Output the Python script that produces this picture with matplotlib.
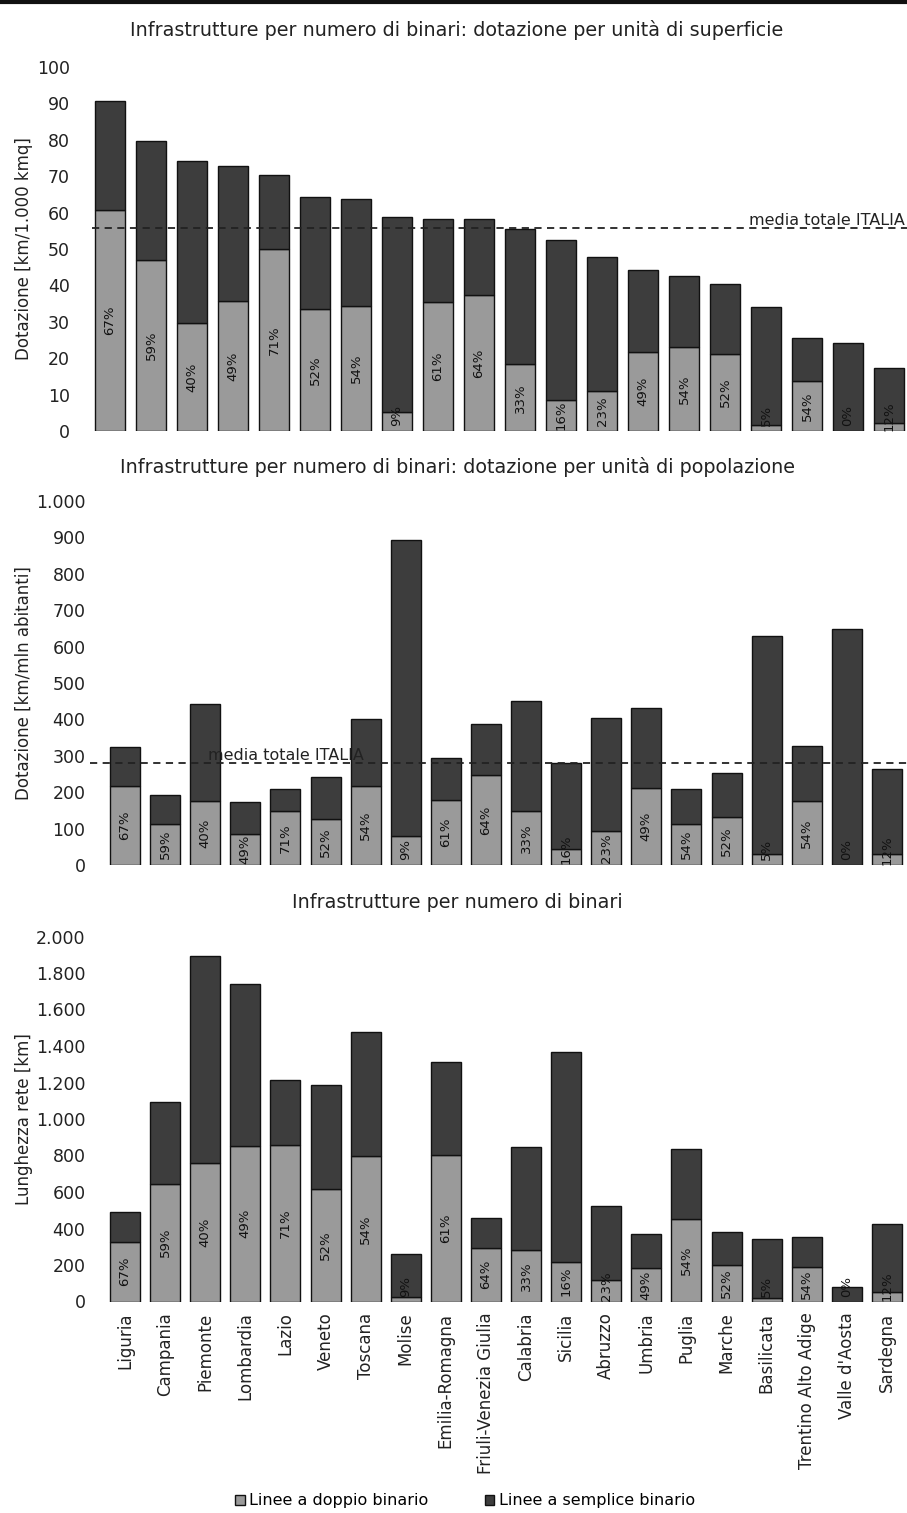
import numpy as np
import matplotlib
matplotlib.use("Agg")
import matplotlib.pyplot as plt
from matplotlib.patches import Patch
from matplotlib.ticker import FuncFormatter

regioni = ["Liguria", "Campania", "Piemonte", "Lombardia", "Lazio", "Veneto",
           "Toscana", "Molise", "Emilia-Romagna", "Friuli-Venezia Giulia",
           "Calabria", "Sicilia", "Abruzzo", "Umbria", "Puglia", "Marche",
           "Basilicata", "Trentino Alto Adige", "Valle d'Aosta", "Sardegna"]

# quota di linee a doppio binario [%]
quota_doppio = [67, 59, 40, 49, 71, 52, 54, 9, 61, 64,
                33, 16, 23, 49, 54, 52, 5, 54, 0, 12]

# km / 1.000 kmq
dot_superficie = [90.7, 79.7, 74.2, 72.7, 70.4, 64.2, 63.7, 58.9, 58.3, 58.3,
                  55.4, 52.5, 47.9, 44.1, 42.5, 40.5, 34.1, 25.6, 24.3, 17.2]
media_superficie = 55.7

# km / mln abitanti
dot_popolazione = [325, 191, 441, 172, 210, 243, 400, 893, 293, 386,
                   451, 279, 405, 432, 209, 254, 630, 327, 649, 263]
media_popolazione = 280

# km
lunghezza_rete = [490, 1093, 1894, 1739, 1211, 1184, 1476, 261, 1312, 460,
                  849, 1365, 521, 371, 835, 380, 342, 351, 79, 424]

C_DOPPIO = "#9a9a9a"
C_SEMPLICE = "#3d3d3d"

plt.rcParams["font.family"] = ["DejaVu Sans"]

W, H = 907, 1513
fig = plt.figure(figsize=(W / 100, H / 100), dpi=100)


def fx(px):
    return px / W


def fy(py):
    return 1 - py / H


def thousands(v, pos):
    return "{:,.0f}".format(v).replace(",", ".")


def pannello(rect, totali, ymax, step, titolo, ylabel, title_y, media=None,
             media_x0=None, media_txt_x=None, media_ha="center"):
    ax = fig.add_axes(rect)
    tot = np.array(totali, dtype=float)
    q = np.array(quota_doppio, dtype=float)
    doppio = tot * q / 100
    semplice = tot - doppio
    x = np.arange(len(tot))
    ax.bar(x, doppio, 0.75, color=C_DOPPIO, edgecolor="#111111", linewidth=1.0, zorder=2)
    ax.bar(x, semplice, 0.75, bottom=doppio, color=C_SEMPLICE,
           edgecolor="#111111", linewidth=1.0, zorder=2)
    for xi, d, qi in zip(x, doppio, quota_doppio):
        yy = max(d / 2, 0.042 * ymax)
        ax.text(xi, yy, "%d%%" % qi, rotation=90, ha="center", va="center",
                fontsize=9.5, color="#111111", zorder=4)
    ax.set_xlim(-0.5, 19.45)
    ax.set_ylim(0, ymax)
    ax.set_yticks(np.arange(0, ymax + step / 2, step))
    ax.yaxis.set_major_formatter(FuncFormatter(thousands))
    ax.tick_params(axis="y", length=0, pad=14, labelsize=12.5, colors="#222222")
    ax.tick_params(axis="x", length=0)
    ax.set_xticks([])
    for s in ax.spines.values():
        s.set_visible(False)
    if media is not None:
        ax.plot([media_x0, 19.6], [media, media], ls=(0, (4, 3)), color="#222222",
                lw=1.3, zorder=3, clip_on=False)
        ax.text(media_txt_x, media, "media totale ITALIA", ha=media_ha, va="bottom",
                fontsize=11.5, color="#222222", zorder=4)
    fig.text(fx(457), fy(title_y), titolo, ha="center", va="center",
             fontsize=13.8, color="#222222")
    fig.text(fx(24), rect[1] + rect[3] / 2, ylabel, rotation=90, ha="center",
             va="center", fontsize=12, color="#222222")
    return ax


# pannello 1: per unita' di superficie
pannello([fx(89.5), fy(431), fx(818), (431 - 67) / H], dot_superficie, 100, 10,
         "Infrastrutture per numero di binari: dotazione per unità di superficie",
         "Dotazione [km/1.000 kmq]", 30,
         media=media_superficie, media_x0=-0.45, media_txt_x=19.38, media_ha="right")

# pannello 2: per unita' di popolazione
pannello([fx(105), fy(865), fx(800), (865 - 501) / H], dot_popolazione, 1000, 100,
         "Infrastrutture per numero di binari: dotazione per unità di popolazione",
         "Dotazione [km/mln abitanti]", 467,
         media=media_popolazione, media_x0=-0.87, media_txt_x=4.0)

# pannello 3: lunghezza rete
ax3 = pannello([fx(105), fy(1301.5), fx(800), (1301.5 - 936.5) / H], lunghezza_rete,
               2000, 200, "Infrastrutture per numero di binari",
               "Lunghezza rete [km]", 903)
ax3.set_xticks(np.arange(len(regioni)))
ax3.set_xticklabels(regioni, rotation=90, fontsize=12, color="#222222")
ax3.tick_params(axis="x", pad=8)

# bordo superiore
fig.add_artist(plt.Line2D([0, 1], [fy(1.5), fy(1.5)], color="#111111", lw=3))

handles = [Patch(facecolor=C_DOPPIO, edgecolor="#111111"),
           Patch(facecolor=C_SEMPLICE, edgecolor="#111111")]
fig.legend(handles, ["Linee a doppio binario", "Linee a semplice binario"],
           loc="center", bbox_to_anchor=(fx(465), fy(1501)), ncol=2, frameon=False,
           handlelength=0.6, handleheight=0.6, handletextpad=0.3, columnspacing=3.5,
           prop={"size": 11.5})

fig.savefig("out.png", dpi=100)
